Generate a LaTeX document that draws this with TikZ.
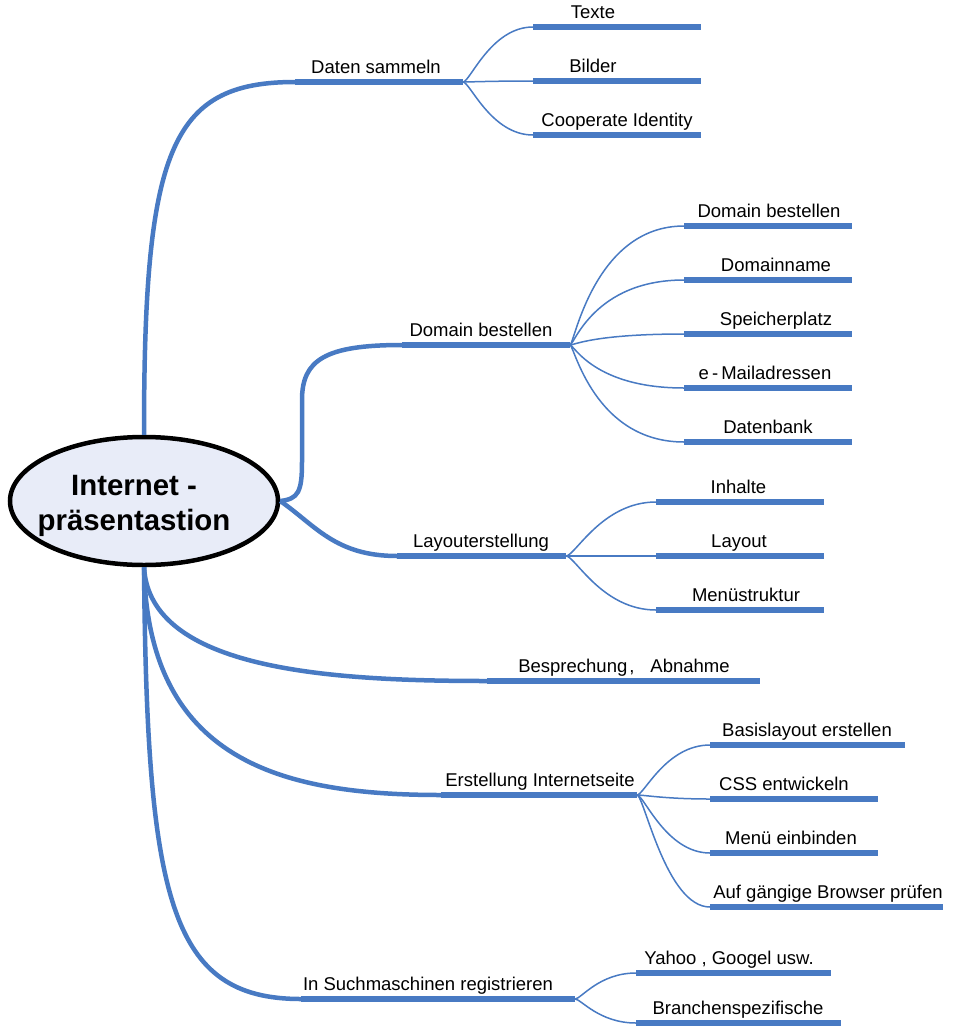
\documentclass[tikz,border=0pt]{standalone}
\usepackage{fontspec}
\setmainfont{Liberation Sans}
\usetikzlibrary{shapes.geometric}
\definecolor{mmblue}{RGB}{72,122,195}
\definecolor{rootfill}{RGB}{232,236,248}
\tikzset{
  uline/.style={draw=mmblue, line width=6pt},
  mainconn/.style={draw=mmblue, line width=4.5pt},
  subconn/.style={draw=mmblue, line width=1.5pt},
  lbl/.style={anchor=base, inner sep=0pt, font=\fontsize{18.5}{22}\selectfont},
}
\newcommand\mmitem[6]{%
  \coordinate (#1L) at (#2,#4);
  \coordinate (#1R) at (#3,#4);
  \draw[uline] (#1L) -- (#1R);
  \node[lbl] (#1) at (#5,#4-9) {#6};
}
\begin{document}
\begin{tikzpicture}[x=1pt,y=-1pt]
\useasboundingbox[fill=white] (0,0) rectangle (953,1026);

% root
\node[ellipse, draw=black, line width=4.5pt, fill=rootfill, minimum width=268pt, minimum height=128pt, inner sep=0pt] (root) at (144,501) {};
\node[align=center, inner sep=0pt, font=\bfseries\fontsize{29.4}{35}\selectfont] (roottext) at (134,506) {Internet -\\präsentastion};

% main branches
\mmitem{ds}{295}{463}{82}{376}{Daten sammeln}
\mmitem{db}{402}{570}{345}{481}{Domain bestellen}
\mmitem{lo}{397}{566}{556}{481}{Layouterstellung}
\mmitem{ba}{487}{760}{681}{624}{Besprechung\hspace{2pt},\hspace{16pt}Abnahme}
\mmitem{ei}{441}{637}{795}{540}{Erstellung Internetseite}
\mmitem{sr}{301}{575}{999}{428}{In Suchmaschinen registrieren}

% sub items: Daten sammeln
\mmitem{tx}{533}{701}{27}{593}{Texte}
\mmitem{bi}{533}{701}{81}{593}{Bilder}
\mmitem{ci}{533}{701}{135}{617}{Cooperate Identity}
% Domain bestellen
\mmitem{dbb}{684}{852}{226}{769}{Domain bestellen}
\mmitem{dn}{684}{852}{280}{776}{Domainname}
\mmitem{sp}{684}{852}{334}{776}{Speicherplatz}
\mmitem{em}{684}{852}{388}{765}{e\,-\,Mailadressen}
\mmitem{dbk}{684}{852}{442}{768}{Datenbank}
% Layouterstellung
\mmitem{in}{656}{824}{502}{738.5}{Inhalte}
\mmitem{la}{656}{824}{556}{739}{Layout}
\mmitem{me}{656}{824}{610}{746}{Menüstruktur}
% Erstellung Internetseite
\mmitem{bl}{710}{905}{745}{807}{Basislayout erstellen}
\mmitem{cs}{710}{878}{799}{784}{CSS entwickeln}
\mmitem{mb}{710}{878}{853}{791}{Menü einbinden}
\mmitem{ag}{710}{943}{907}{828}{Auf gängige Browser prüfen}
% Suchmaschinen
\mmitem{ya}{636}{831}{973}{729}{Yahoo , Googel usw.}
\mmitem{br}{636}{841}{1023}{738}{Branchenspezifische}

% main connectors
\draw[mainconn] (root.north) .. controls (144,150) and (170,82) .. (dsL);
\draw[mainconn] (root.east) .. controls +(18,-2) and (302,492) .. (302,462) -- (302,400) .. controls (302,360) and (325,345) .. (dbL);
\draw[mainconn] (root.east) .. controls (315,525) and (335,556) .. (loL);
\draw[mainconn] (root.south) .. controls (150,670) and (330,681) .. (baL);
\draw[mainconn] (root.south) .. controls (148,760) and (280,795) .. (eiL);
\draw[mainconn] (root.south) .. controls (147,900) and (170,999) .. (srL);

% sub connectors
\foreach \c in {tx,bi,ci}
  \draw[subconn] (dsR) .. controls +(7,0) and +(-42,0) .. (\c L);
\foreach \c in {dbb,dn,sp,em,dbk}
  \draw[subconn] (dbR) .. controls +(4,0) and +(-90,0) .. (\c L);
\foreach \c in {in,la,me}
  \draw[subconn] (loR) .. controls +(9,0) and +(-54,0) .. (\c L);
\foreach \c in {bl,cs,mb,ag}
  \draw[subconn] (eiR) .. controls +(7,0) and +(-44,0) .. (\c L);
\foreach \c in {ya,br}
  \draw[subconn] (srR) .. controls +(6,0) and +(-37,0) .. (\c L);
\end{tikzpicture}
\end{document}
